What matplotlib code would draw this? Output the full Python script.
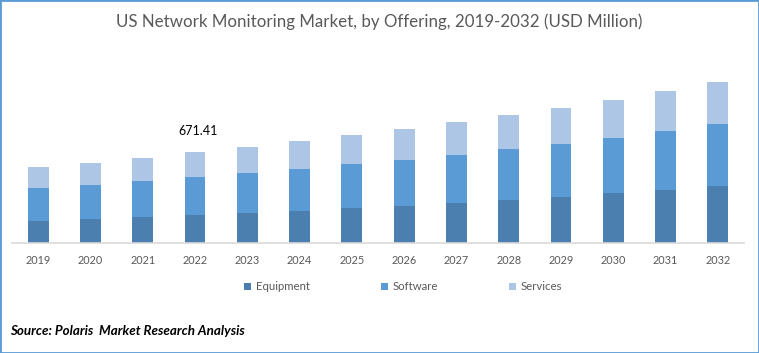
import numpy as np
import matplotlib
matplotlib.use("Agg")
import matplotlib.pyplot as plt
from matplotlib.patches import Patch, Rectangle

# data (USD million)
years = ["2019", "2020", "2021", "2022", "2023", "2024", "2025",
         "2026", "2027", "2028", "2029", "2030", "2031", "2032"]
equipment = [162, 177, 192, 206.5, 221, 236, 258, 273, 295, 317, 339, 369, 391, 421]
software = [244, 251, 266, 280.4, 295, 310, 325, 339, 354, 376, 391, 406, 435, 457]
services = [155, 162, 170, 184.5, 192, 207, 214, 229, 243, 251, 266, 280, 295, 310]
series_names = ["Equipment", "Software", "Services"]
colors = ["#4A7FB0", "#5B9BD5", "#ADC6E6"]
label_idx = 3
label_txt = "671.41"

plt.rcParams['font.family'] = ['Lato', 'DejaVu Sans']

fig = plt.figure(figsize=(7.59, 3.53), dpi=100)
ax = fig.add_axes([12/759, 110/353, 732/759, 173/353])

x = np.arange(len(years))
eq = np.array(equipment)
sw = np.array(software)
sv = np.array(services)

ax.bar(x, eq, width=0.4, color=colors[0])
ax.bar(x, sw, width=0.4, bottom=eq, color=colors[1])
ax.bar(x, sv, width=0.4, bottom=eq + sw, color=colors[2])

total = eq + sw + sv
ax.annotate(label_txt, xy=(x[label_idx], total[label_idx]), xytext=(2, 15),
            textcoords="offset points", ha="center", va="center",
            fontsize=9, color="black")

ax.set_xlim(-0.5, len(years) - 0.5)
ax.set_ylim(0, 1276)
ax.set_xticks(x)
ax.set_xticklabels(years, fontsize=7.8, color="#595959")
ax.tick_params(axis="x", length=0, pad=9)
ax.set_yticks([])
for s in ["top", "right", "left"]:
    ax.spines[s].set_visible(False)
ax.spines["bottom"].set_color("#D9D9D9")
ax.spines["bottom"].set_linewidth(1.2)

handles = [Patch(facecolor=c, edgecolor="none") for c in colors]
fig.legend(handles, series_names, loc="center", bbox_to_anchor=(403/759, 66/353),
           ncol=3, frameon=False, fontsize=8.2, labelcolor="#595959",
           handlelength=0.65, handleheight=0.65, handletextpad=0.4,
           columnspacing=6.2)

fig.text(0.5, 1 - 22/353, "US Network Monitoring Market, by Offering, 2019-2032 (USD Million)",
         ha="center", va="center", fontsize=12.2, color="#595959")
fig.text(10/759, 1 - 331/353, "Source: Polaris  Market Research Analysis",
         ha="left", va="center", fontsize=9.6, fontweight="bold", fontstyle="italic",
         color="black")

fig.patches.append(Rectangle((0, 0), 1, 1, transform=fig.transFigure, fill=False,
                             edgecolor="#5B9BD5", linewidth=2))

fig.savefig("out.png", dpi=100)
